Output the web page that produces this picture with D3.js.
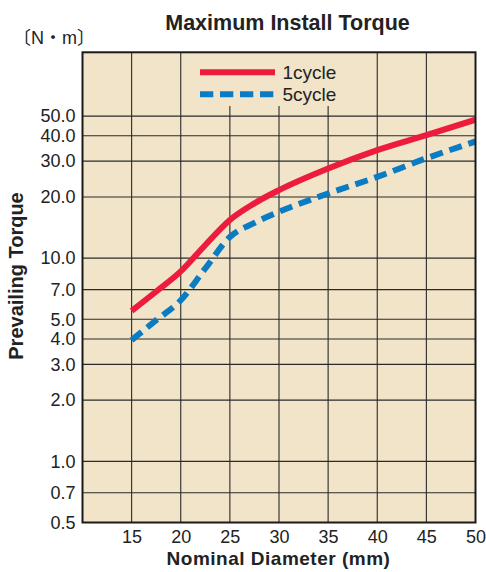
<!DOCTYPE html>
<html><head><meta charset="utf-8">
<script src="https://cdn.jsdelivr.net/npm/d3@7"></script>
<style>body{margin:0;background:#fff;} svg{display:block;}</style>
</head><body>
<script>
const diameters1 = [15, 17.5, 20, 22.5, 25, 27.5, 30, 35, 40, 45, 50];
const torque1cycle = [5.5, 6.85, 8.6, 11.6, 15.4, 18.6, 21.6, 27.6, 34.0, 40.3, 48.0];
const diameters5 = [15, 17.5, 20, 22.5, 25, 27.5, 30, 35, 40, 45, 50];
const torque5cycle = [3.95, 4.95, 6.2, 8.9, 12.7, 14.9, 16.9, 20.8, 25.1, 31.0, 37.5];
const xTicks = [15, 20, 25, 30, 35, 40, 45, 50];
const yTicks = [0.5, 0.7, 1, 2, 3, 4, 5, 7, 10, 20, 30, 40, 50];
const seriesNames = ["1cycle", "5cycle"];

const W = 486, H = 572;
const L = 82.5, R = 475.5, T = 52.3, B = 522.5;
const svg = d3.select("body").append("svg").attr("width", W).attr("height", H);
const font = "'Liberation Sans', Arial, sans-serif";

const x = d3.scaleLinear().domain([10, 50]).range([L, R]);
const y = d3.scaleLog().domain([0.5, 103]).range([B, T]);

svg.append("rect").attr("x", L).attr("y", T).attr("width", R - L).attr("height", B - T).attr("fill", "#f1e4c9");

// grid
svg.append("g").selectAll("line").data(yTicks.slice(1)).join("line")
  .attr("x1", L).attr("x2", R).attr("y1", d => y(d)).attr("y2", d => y(d))
  .attr("stroke", "#2a2a2a").attr("stroke-width", 1.1);
svg.append("g").selectAll("line").data(xTicks.slice(0, -1)).join("line")
  .attr("x1", d => x(d)).attr("x2", d => x(d)).attr("y1", T).attr("y2", B)
  .attr("stroke", "#2a2a2a").attr("stroke-width", 1.1);

// legend background
svg.append("rect").attr("x", 186).attr("y", T).attr("width", 187).attr("height", 106 - T).attr("fill", "#f1e4c9");

// axes
const xAxis = svg.append("g").attr("transform", `translate(0,${B})`)
  .call(d3.axisBottom(x).tickValues(xTicks).tickSize(0).tickPadding(8).tickFormat(d3.format("d")));
xAxis.select(".domain").remove();
xAxis.selectAll("text").attr("font-family", font).attr("font-size", 18).attr("fill", "#222");

const yAxis = svg.append("g").attr("transform", `translate(${L},0)`)
  .call(d3.axisLeft(y).tickValues(yTicks).tickSize(0).tickPadding(7).tickFormat(d3.format(".1f")));
yAxis.select(".domain").remove();
yAxis.selectAll("text").attr("font-family", font).attr("font-size", 18).attr("fill", "#222");

// clip
svg.append("clipPath").attr("id", "clip").append("rect").attr("x", L).attr("y", T).attr("width", R - L).attr("height", B - T);

const line = d3.line().x(d => x(d[0])).y(d => y(d[1])).curve(d3.curveMonotoneX);
svg.append("path").datum(diameters1.map((d, i) => [d, torque1cycle[i]]))
  .attr("d", line).attr("fill", "none").attr("stroke", "#ed1c3c").attr("stroke-width", 6)
  .attr("clip-path", "url(#clip)");
svg.append("path").datum(diameters5.map((d, i) => [d, torque5cycle[i]]))
  .attr("d", line).attr("fill", "none").attr("stroke", "#0a7cc4").attr("stroke-width", 6)
  .attr("stroke-dasharray", "13,7").attr("clip-path", "url(#clip)");

// border
svg.append("rect").attr("x", L).attr("y", T).attr("width", R - L).attr("height", B - T)
  .attr("fill", "none").attr("stroke", "#1a1a1a").attr("stroke-width", 2);

// legend
const lg = svg.append("g");
lg.append("line").attr("x1", 200).attr("x2", 275).attr("y1", 72.3).attr("y2", 72.3)
  .attr("stroke", "#ed1c3c").attr("stroke-width", 6);
lg.append("line").attr("x1", 200).attr("x2", 275).attr("y1", 94.3).attr("y2", 94.3)
  .attr("stroke", "#0a7cc4").attr("stroke-width", 6).attr("stroke-dasharray", "13.3,6.7");
lg.append("text").attr("x", 282.5).attr("y", 79).text(seriesNames[0])
  .attr("font-family", font).attr("font-size", 19).attr("fill", "#222");
lg.append("text").attr("x", 282.5).attr("y", 101).text(seriesNames[1])
  .attr("font-family", font).attr("font-size", 19).attr("fill", "#222");

// titles
svg.append("text").attr("x", 287.5).attr("y", 30).attr("text-anchor", "middle")
  .attr("font-family", font).attr("font-weight", "bold").attr("font-size", 21.5).attr("fill", "#222")
  .text("Maximum Install Torque");
svg.append("text").attr("x", 13).attr("y", 44)
  .attr("font-family", "'Liberation Sans', 'Noto Sans CJK JP', sans-serif").attr("font-size", 18).attr("fill", "#222")
  .text("〔N・m〕");
svg.append("text").attr("x", 278.5).attr("y", 565).attr("text-anchor", "middle")
  .attr("font-family", font).attr("font-weight", "bold").attr("font-size", 19).attr("letter-spacing", 0.5).attr("fill", "#222")
  .text("Nominal Diameter (mm)");
svg.append("text").attr("transform", "translate(23,276) rotate(-90)").attr("text-anchor", "middle")
  .attr("font-family", font).attr("font-weight", "bold").attr("font-size", 20).attr("fill", "#222")
  .text("Prevailing Torque");
</script>
</body></html>
